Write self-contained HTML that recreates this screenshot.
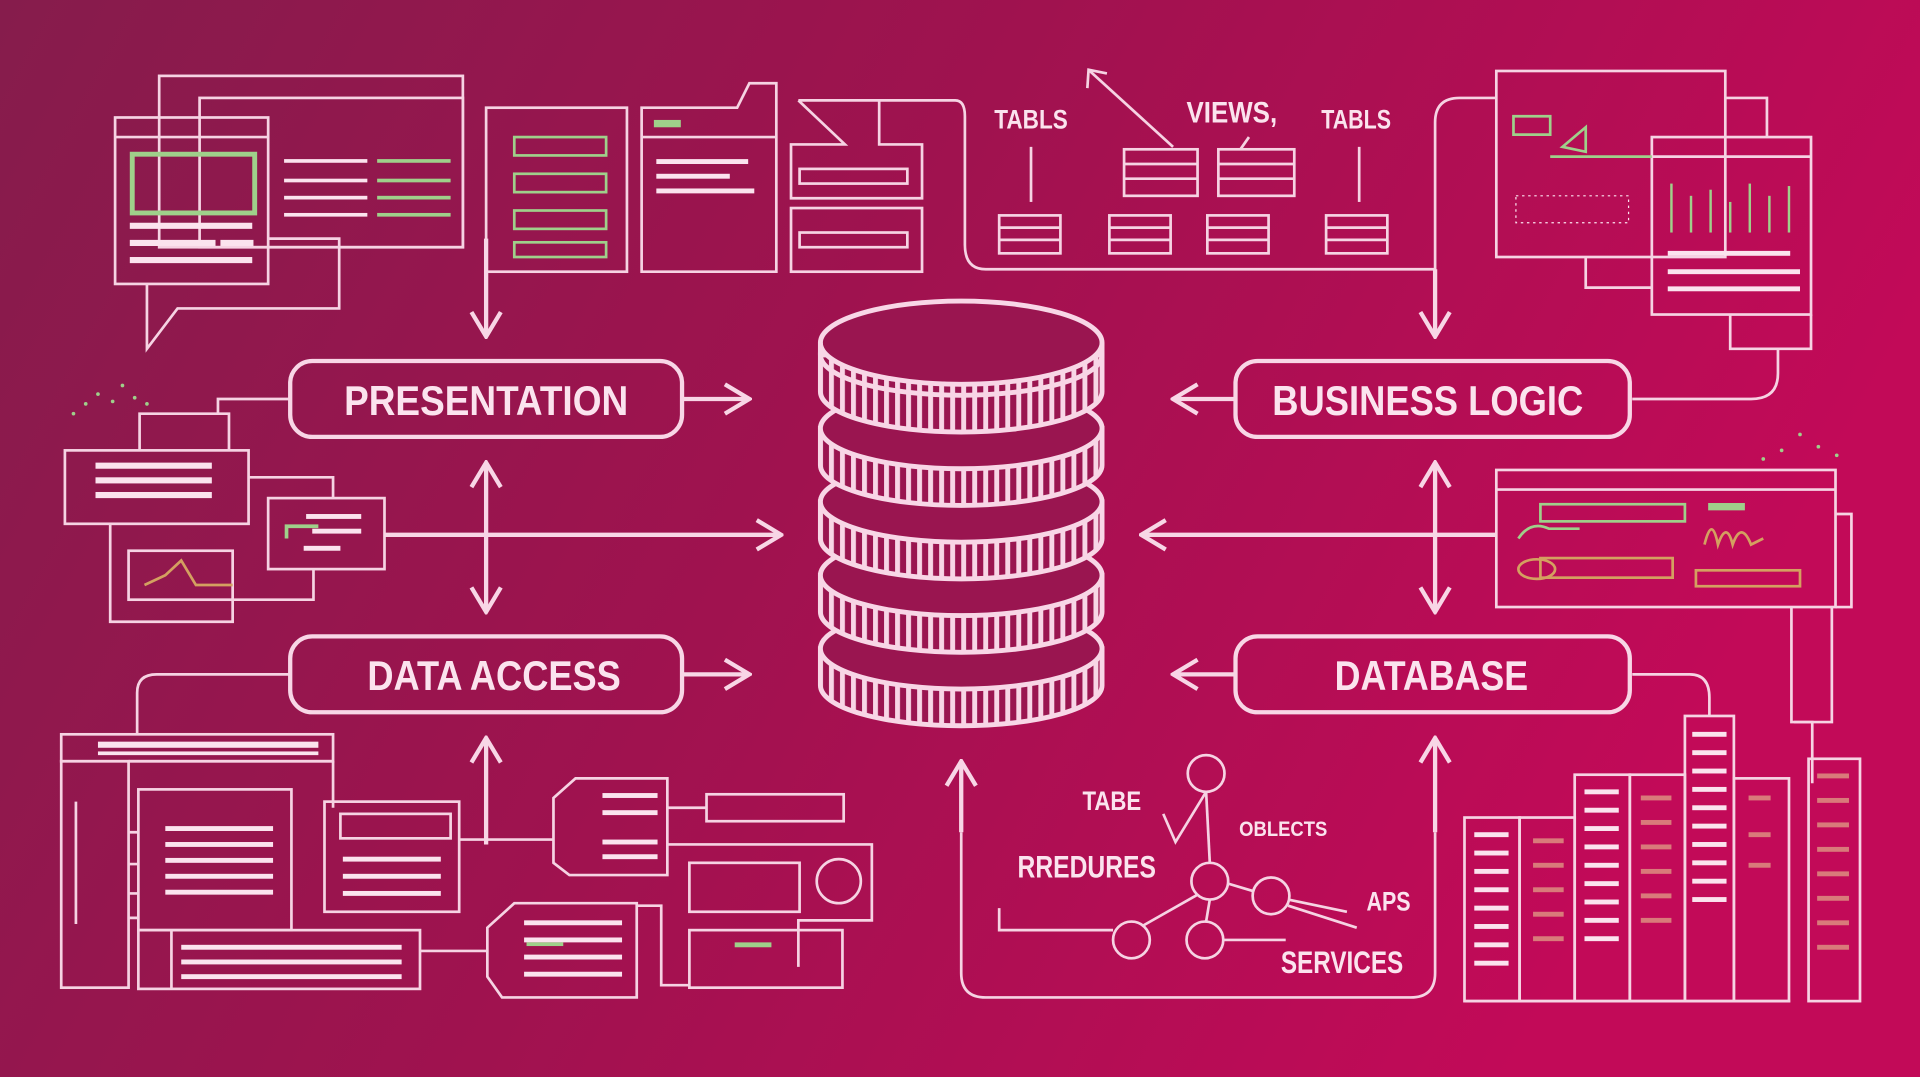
<!DOCTYPE html>
<html><head><meta charset="utf-8"><style>
html,body{margin:0;padding:0;width:1920px;height:1077px;overflow:hidden;}
svg{display:block}
text{font-family:"Liberation Sans",sans-serif;font-weight:bold;fill:#fbe3ee}
</style></head><body>
<svg width="1920" height="1077" viewBox="0 0 1568 880" preserveAspectRatio="none" xmlns="http://www.w3.org/2000/svg">
<defs>
<linearGradient id="bg" x1="0" y1="0" x2="1" y2="0.3">
<stop offset="0" stop-color="#861c4c"/><stop offset="0.5" stop-color="#a0124f"/><stop offset="1" stop-color="#c20a58"/>
</linearGradient>
<pattern id="stripes" width="9" height="10" patternUnits="userSpaceOnUse">
<rect width="9" height="10" fill="#9a1550"/><rect x="2" width="4" height="10" fill="#f8d6e6"/>
</pattern>
<marker id="ahb" viewBox="0 0 24 28" refX="22" refY="14" markerWidth="24" markerHeight="28" markerUnits="userSpaceOnUse" orient="auto-start-reverse"><path d="M2 2 L22 14 L2 26" fill="none" stroke="#f8d6e6" stroke-width="3.5"/></marker>
</defs>
<rect width="1568" height="880" fill="url(#bg)"/>
<g fill="none" stroke="#f6d3e3" stroke-width="2.2">
<rect x="130" y="62" width="248" height="140"/>
<rect x="163" y="80" width="215" height="122"/>
<rect x="94" y="96" width="125" height="136"/>
<line x1="94" y1="112" x2="219" y2="112"/>
<rect x="108" y="126" width="100" height="48" stroke="#9fd08a" stroke-width="4"/>
<path d="M219 195 H277 V252 H145 L120 285 V232"/>
<rect x="397" y="88" width="115" height="134"/>
<rect x="420" y="112" width="75" height="15" stroke="#9fd08a"/>
<rect x="420" y="142" width="75" height="15" stroke="#9fd08a"/>
<rect x="420" y="172" width="75" height="15" stroke="#9fd08a"/>
<rect x="420" y="198" width="75" height="12" stroke="#9fd08a"/>
<path d="M524 222 V88 H602 L612 68 H634 V222 Z"/>
<line x1="524" y1="112" x2="634" y2="112"/>
<path d="M652 82 H780 Q788 82 788 95 V200 Q788 220 805 220 H1172"/>
<path d="M652 82 L690 118 H646 V162 H753 V118 H718 V82"/>
<rect x="646" y="170" width="107" height="52"/>
<rect x="653" y="138" width="88" height="12"/>
<rect x="653" y="190" width="88" height="12"/>
<line x1="842" y1="120" x2="842" y2="165"/>
<line x1="1110" y1="120" x2="1110" y2="165"/>
<line x1="890" y1="58" x2="958" y2="120"/>
<path d="M888 72 L889 57 L904 60"/>
<line x1="1020" y1="112" x2="1013" y2="122"/>
<g>
<rect x="816" y="176" width="50" height="31"/><line x1="816" y1="186" x2="866" y2="186"/><line x1="816" y1="196" x2="866" y2="196"/>
<rect x="906" y="176" width="50" height="31"/><line x1="906" y1="186" x2="956" y2="186"/><line x1="906" y1="196" x2="956" y2="196"/>
<rect x="986" y="176" width="50" height="31"/><line x1="986" y1="186" x2="1036" y2="186"/><line x1="986" y1="196" x2="1036" y2="196"/>
<rect x="1083" y="176" width="50" height="31"/><line x1="1083" y1="186" x2="1133" y2="186"/><line x1="1083" y1="196" x2="1133" y2="196"/>
<rect x="918" y="122" width="60" height="38"/><line x1="918" y1="134" x2="978" y2="134"/><line x1="918" y1="146" x2="978" y2="146"/>
<rect x="995" y="122" width="62" height="38"/><line x1="995" y1="134" x2="1057" y2="134"/><line x1="995" y1="146" x2="1057" y2="146"/>
</g>
<path d="M1172 275 V100 Q1172 80 1192 80 H1222"/>
<rect x="1222" y="58" width="187" height="152"/>
<path d="M1409 80 H1443 V112"/>
<rect x="1349" y="112" width="130" height="145"/>
<line x1="1349" y1="128" x2="1479" y2="128"/>
<path d="M1295 210 V235 H1349"/>
<path d="M1413 257 V285 H1479 V257"/>
<path d="M1333 326 H1430 Q1452 326 1452 305 V285"/>
<path d="M1236 95 H1266 V110 H1236Z M1276 120 L1295 104 V124Z" stroke="#9fd08a"/>
<line x1="1266" y1="128" x2="1349" y2="128" stroke="#9fd08a"/>
<path d="M236 326 H178 V338"/>
<rect x="53" y="368" width="150" height="60"/>
<path d="M114 368 V338 H187 V368"/>
<rect x="219" y="407" width="95" height="58"/>
<path d="M203 390 H272 V407"/>
<path d="M90 428 V508 H190 V490 H256 V465"/>
<rect x="105" y="450" width="85" height="40"/>
<path d="M118 478 L135 470 L148 458 L160 478 L190 478" stroke="#d4a060"/>
<path d="M234 440 V430 H260" stroke="#9fd08a" stroke-width="3"/>
<rect x="1222" y="384" width="277" height="112"/>
<line x1="1222" y1="400" x2="1499" y2="400"/>
<path d="M1499 420 H1512 V496 H1499"/>
<rect x="1258" y="412" width="118" height="14" stroke="#9fd08a"/>
<rect x="1258" y="456" width="108" height="16" stroke="#d4a060"/>
<rect x="1385" y="466" width="85" height="13" stroke="#d4a060"/>
<path d="M1240 440 Q1250 425 1265 432 L1290 432" stroke="#9fd08a"/>
<ellipse cx="1255" cy="465" rx="15" ry="8" stroke="#d4a060"/>
<path d="M1392 445 Q1398 420 1403 445 Q1410 425 1415 445 Q1422 425 1430 445 L1440 440" stroke="#d4a060"/>
<path d="M1463 496 V590 H1480 V640" />
<path d="M1496 496 V590 H1465"/>
<path d="M236 551 H128 Q112 551 112 566 V600"/>
<rect x="50" y="600" width="222" height="22"/>
<rect x="50" y="622" width="55" height="185"/>
<line x1="105" y1="622" x2="272" y2="622"/>
<path d="M272 622 V660"/>
<rect x="113" y="645" width="125" height="115"/>
<rect x="265" y="655" width="110" height="90"/>
<rect x="278" y="665" width="90" height="20"/>
<rect x="113" y="760" width="230" height="48"/>
<line x1="140" y1="760" x2="140" y2="808"/>
<path d="M105 680 H113 M105 706 H113 M105 730 H113 M105 750 H113"/>
<line x1="62" y1="655" x2="62" y2="755"/>
<line x1="375" y1="686" x2="452" y2="686"/>
<path d="M470 636 H545 V715 H465 L452 705 V652 Z"/>
<rect x="577" y="649" width="112" height="22"/>
<line x1="545" y1="660" x2="577" y2="660"/>
<path d="M545 690 H712 V752 H652 V790"/>
<rect x="563" y="705" width="90" height="40"/>
<circle cx="685" cy="720" r="18"/>
<path d="M420 738 H520 V815 H410 L398 798 V758 Z"/>
<line x1="343" y1="777" x2="398" y2="777"/>
<rect x="563" y="760" width="125" height="47"/>
<path d="M520 740 H540 V805 H563"/>
<path d="M785 680 V795 Q785 815 805 815 H1152 Q1172 815 1172 795 V680" />
<circle cx="985" cy="632" r="15"/>
<circle cx="988" cy="720" r="15"/>
<circle cx="1038" cy="732" r="15"/>
<circle cx="924" cy="768" r="15"/>
<circle cx="984" cy="768" r="15"/>
<path d="M985 647 L960 688 L950 665"/>
<line x1="985" y1="647" x2="988" y2="705"/>
<line x1="978" y1="731" x2="934" y2="756"/>
<line x1="988" y1="735" x2="985" y2="753"/>
<line x1="1003" y1="722" x2="1023" y2="728"/>
<path d="M1052 735 L1100 745 M1052 740 L1108 758"/>
<path d="M816 742 V760 H909"/>
<line x1="999" y1="768" x2="1050" y2="768"/>
<path d="M1333 551 H1380 Q1396 551 1396 570 V585"/>
<rect x="1196" y="668" width="45" height="150"/>
<rect x="1241" y="668" width="45" height="150"/>
<rect x="1286" y="633" width="45" height="185"/>
<rect x="1331" y="633" width="45" height="185"/>
<rect x="1376" y="585" width="40" height="233"/>
<rect x="1416" y="636" width="45" height="182"/>
<rect x="1477" y="620" width="42" height="198"/>
<line x1="1196" y1="818" x2="1462" y2="818"/>
</g>
<g fill="#fbe3ee">
<rect x="106" y="182" width="100" height="5"/><rect x="106" y="196" width="70" height="5"/><rect x="180" y="196" width="27" height="5"/><rect x="106" y="210" width="100" height="5"/>
<rect x="232" y="130" width="68" height="3"/><rect x="232" y="146" width="68" height="3"/><rect x="232" y="160" width="68" height="3"/><rect x="232" y="174" width="68" height="3"/>
<rect x="536" y="130" width="75" height="4"/><rect x="536" y="142" width="60" height="4"/><rect x="536" y="154" width="80" height="4"/>
<rect x="78" y="378" width="95" height="5"/><rect x="78" y="390" width="95" height="5"/><rect x="78" y="402" width="95" height="5"/>
<rect x="250" y="420" width="45" height="4"/><rect x="255" y="432" width="40" height="4"/><rect x="248" y="446" width="30" height="4"/>
<rect x="80" y="606" width="180" height="5"/><rect x="80" y="614" width="180" height="3"/>
<rect x="135" y="675" width="88" height="4"/><rect x="135" y="688" width="88" height="4"/><rect x="135" y="701" width="88" height="4"/><rect x="135" y="714" width="88" height="4"/><rect x="135" y="727" width="88" height="4"/>
<rect x="280" y="700" width="80" height="4"/><rect x="280" y="714" width="80" height="4"/><rect x="280" y="728" width="80" height="4"/>
<rect x="148" y="772" width="180" height="4"/><rect x="148" y="784" width="180" height="4"/><rect x="148" y="796" width="180" height="4"/>
<rect x="428" y="752" width="80" height="4"/><rect x="428" y="766" width="80" height="4"/><rect x="428" y="780" width="80" height="4"/><rect x="428" y="794" width="80" height="4"/>
<rect x="492" y="648" width="45" height="4"/><rect x="492" y="662" width="45" height="4"/><rect x="492" y="686" width="45" height="4"/><rect x="492" y="698" width="45" height="4"/>
<rect x="1362" y="205" width="100" height="4"/><rect x="1362" y="220" width="108" height="4"/><rect x="1362" y="234" width="108" height="4"/>
<rect x="1238" y="160" width="92" height="22" fill="none" stroke="#fbe3ee" stroke-dasharray="2 3"/>
</g>
<g fill="#fbe3ee">
<rect x="1204" y="680" width="28" height="4"/><rect x="1204" y="695" width="28" height="4"/><rect x="1204" y="710" width="28" height="4"/><rect x="1204" y="725" width="28" height="4"/><rect x="1204" y="740" width="28" height="4"/><rect x="1204" y="755" width="28" height="4"/><rect x="1204" y="770" width="28" height="4"/><rect x="1204" y="785" width="28" height="4"/>
<rect x="1294" y="645" width="28" height="4"/><rect x="1294" y="660" width="28" height="4"/><rect x="1294" y="675" width="28" height="4"/><rect x="1294" y="690" width="28" height="4"/><rect x="1294" y="705" width="28" height="4"/><rect x="1294" y="720" width="28" height="4"/><rect x="1294" y="735" width="28" height="4"/><rect x="1294" y="750" width="28" height="4"/><rect x="1294" y="765" width="28" height="4"/>
<rect x="1382" y="598" width="28" height="4"/><rect x="1382" y="613" width="28" height="4"/><rect x="1382" y="628" width="28" height="4"/><rect x="1382" y="643" width="28" height="4"/><rect x="1382" y="658" width="28" height="4"/><rect x="1382" y="673" width="28" height="4"/><rect x="1382" y="688" width="28" height="4"/><rect x="1382" y="703" width="28" height="4"/><rect x="1382" y="718" width="28" height="4"/><rect x="1382" y="733" width="28" height="4"/>
</g>
<g fill="#d97a7a">
<rect x="1252" y="685" width="25" height="4"/><rect x="1252" y="705" width="25" height="4"/><rect x="1252" y="725" width="25" height="4"/><rect x="1252" y="745" width="25" height="4"/><rect x="1252" y="765" width="25" height="4"/>
<rect x="1340" y="650" width="25" height="4"/><rect x="1340" y="670" width="25" height="4"/><rect x="1340" y="690" width="25" height="4"/><rect x="1340" y="710" width="25" height="4"/><rect x="1340" y="730" width="25" height="4"/><rect x="1340" y="750" width="25" height="4"/>
<rect x="1484" y="632" width="26" height="4"/><rect x="1484" y="652" width="26" height="4"/><rect x="1484" y="672" width="26" height="4"/><rect x="1484" y="692" width="26" height="4"/><rect x="1484" y="712" width="26" height="4"/><rect x="1484" y="732" width="26" height="4"/><rect x="1484" y="752" width="26" height="4"/><rect x="1484" y="772" width="26" height="4"/>
<rect x="1428" y="650" width="18" height="4"/><rect x="1428" y="680" width="18" height="4"/><rect x="1428" y="705" width="18" height="4"/>
</g>
<g fill="#9fd08a">
<rect x="308" y="130" width="60" height="3"/><rect x="308" y="146" width="60" height="3"/><rect x="308" y="160" width="60" height="3"/><rect x="308" y="174" width="60" height="3"/>
<rect x="534" y="98" width="22" height="6"/>
<rect x="1395" y="411" width="30" height="6"/>
<rect x="1364" y="150" width="2" height="40"/><rect x="1380" y="160" width="2" height="30"/><rect x="1396" y="155" width="2" height="35"/><rect x="1412" y="165" width="2" height="25"/><rect x="1428" y="150" width="2" height="40"/><rect x="1444" y="160" width="2" height="30"/><rect x="1460" y="152" width="2" height="38"/>
<circle cx="70" cy="330" r="1.5"/><circle cx="80" cy="322" r="1.5"/><circle cx="92" cy="328" r="1.5"/><circle cx="100" cy="315" r="1.5"/><circle cx="110" cy="325" r="1.5"/><circle cx="120" cy="330" r="1.5"/><circle cx="60" cy="338" r="1.5"/>
<circle cx="1440" cy="375" r="1.5"/><circle cx="1455" cy="368" r="1.5"/><circle cx="1470" cy="355" r="1.5"/><circle cx="1485" cy="365" r="1.5"/><circle cx="1500" cy="372" r="1.5"/>
<rect x="600" y="770" width="30" height="4"/><rect x="430" y="770" width="30" height="3"/>
</g>
<g fill="none" stroke="#f8d6e6" stroke-width="3.5">
<line x1="557" y1="326" x2="612" y2="326" marker-end="url(#ahb)"/>
<line x1="557" y1="551" x2="612" y2="551" marker-end="url(#ahb)"/>
<line x1="1009" y1="326" x2="958" y2="326" marker-end="url(#ahb)"/>
<line x1="1009" y1="551" x2="958" y2="551" marker-end="url(#ahb)"/>
<line x1="314" y1="437" x2="638" y2="437" marker-end="url(#ahb)"/>
<line x1="1222" y1="437" x2="932" y2="437" marker-end="url(#ahb)"/>
<line x1="397" y1="378" x2="397" y2="500" marker-start="url(#ahb)" marker-end="url(#ahb)"/>
<line x1="1172" y1="378" x2="1172" y2="500" marker-start="url(#ahb)" marker-end="url(#ahb)"/>
<line x1="397" y1="195" x2="397" y2="275" marker-end="url(#ahb)"/>
<line x1="1172" y1="220" x2="1172" y2="275" marker-end="url(#ahb)"/>
<line x1="785" y1="680" x2="785" y2="622" marker-end="url(#ahb)"/>
<line x1="1172" y1="680" x2="1172" y2="603" marker-end="url(#ahb)"/>
<line x1="397" y1="690" x2="397" y2="603" marker-end="url(#ahb)"/>
</g>
<g fill="none" stroke="#f8d6e6" stroke-width="3.5">
<rect x="237" y="295" width="320" height="62" rx="18"/>
<rect x="1009" y="295" width="322" height="62" rx="18"/>
<rect x="237" y="520" width="320" height="62" rx="18"/>
<rect x="1009" y="520" width="322" height="62" rx="18"/>
</g>
<text x="281" y="339" font-size="34" textLength="232" lengthAdjust="spacingAndGlyphs">PRESENTATION</text>
<text x="1039" y="339" font-size="34" textLength="254" lengthAdjust="spacingAndGlyphs">BUSINESS LOGIC</text>
<text x="300" y="564" font-size="34" textLength="207" lengthAdjust="spacingAndGlyphs">DATA ACCESS</text>
<text x="1090" y="564" font-size="34" textLength="158" lengthAdjust="spacingAndGlyphs">DATABASE</text>
<text x="812" y="105" font-size="22" textLength="60" lengthAdjust="spacingAndGlyphs">TABLS</text>
<text x="969" y="100" font-size="24" textLength="74" lengthAdjust="spacingAndGlyphs">VIEWS,</text>
<text x="1079" y="105" font-size="22" textLength="57" lengthAdjust="spacingAndGlyphs">TABLS</text>
<text x="884" y="662" font-size="22" textLength="48" lengthAdjust="spacingAndGlyphs">TABE</text>
<text x="1012" y="683" font-size="17" textLength="72" lengthAdjust="spacingAndGlyphs">OBLECTS</text>
<text x="831" y="717" font-size="26" textLength="113" lengthAdjust="spacingAndGlyphs">RREDURES</text>
<text x="1116" y="744" font-size="22" textLength="36" lengthAdjust="spacingAndGlyphs">APS</text>
<text x="1046" y="795" font-size="26" textLength="100" lengthAdjust="spacingAndGlyphs">SERVICES</text>
<g stroke="#f8d6e6" stroke-width="4">
<g>
<path d="M670 530 V560 A115 33 0 0 0 900 560 V530 Z" fill="url(#stripes)"/>
<ellipse cx="785" cy="530" rx="115" ry="33" fill="#9a1550"/>
</g>
<g>
<path d="M670 470 V500 A115 33 0 0 0 900 500 V470 Z" fill="url(#stripes)"/>
<ellipse cx="785" cy="470" rx="115" ry="33" fill="#9a1550"/>
</g>
<g>
<path d="M670 410 V440 A115 33 0 0 0 900 440 V410 Z" fill="url(#stripes)"/>
<ellipse cx="785" cy="410" rx="115" ry="33" fill="#9a1550"/>
</g>
<g>
<path d="M670 350 V380 A115 33 0 0 0 900 380 V350 Z" fill="url(#stripes)"/>
<ellipse cx="785" cy="350" rx="115" ry="33" fill="#9a1550"/>
</g>
<g>
<path d="M670 290 V320 A115 33 0 0 0 900 320 V290 Z" fill="url(#stripes)"/>
<ellipse cx="785" cy="280" rx="115" ry="34" fill="#9a1550"/>
<path d="M670 280 V290 A115 33 0 0 0 900 290 V280" fill="none"/>
</g>
</g>
</svg>
</body></html>
